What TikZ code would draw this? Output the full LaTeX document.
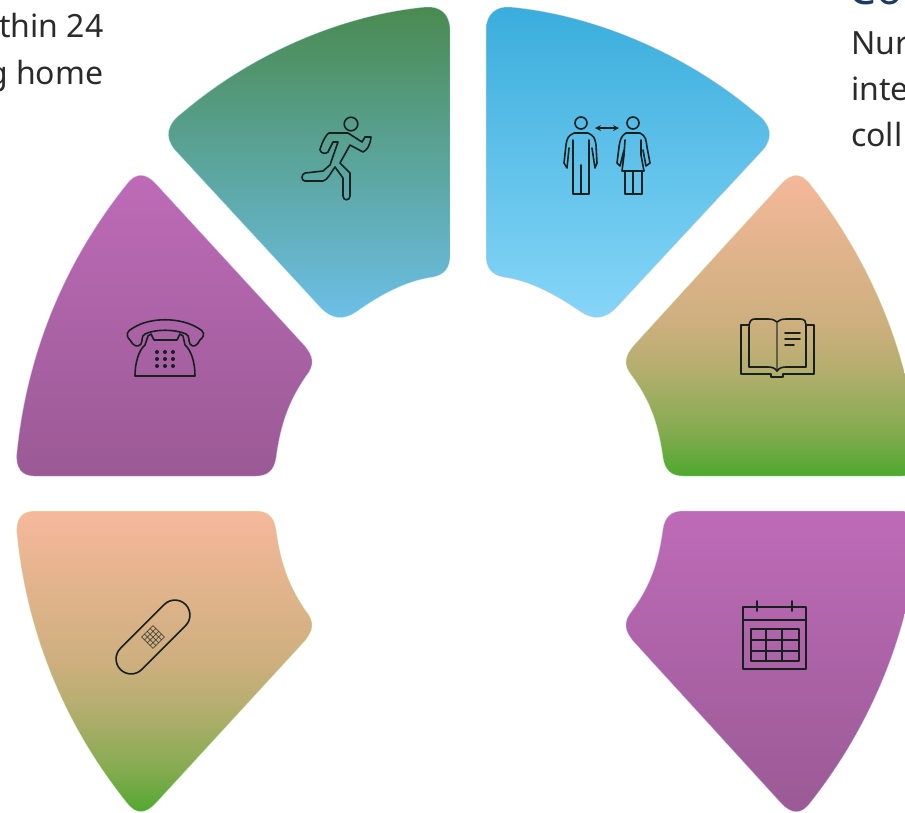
\documentclass[tikz,border=0pt]{standalone}
\usepackage{fontspec}
\setmainfont{Noto Sans}
\definecolor{inkc}{HTML}{15201F}
\definecolor{bodyc}{HTML}{2B2B2B}
\definecolor{headc}{HTML}{1F3A5F}
\definecolor{greenT}{HTML}{4A8A50}
\definecolor{greenB}{HTML}{6CBFE8}
\definecolor{blueT}{HTML}{3AADDC}
\definecolor{blueB}{HTML}{86D6F8}
\definecolor{purpT}{HTML}{BE6BB7}
\definecolor{purpB}{HTML}{9A5A95}
\definecolor{oranT}{HTML}{F6B89B}
\definecolor{oranA}{HTML}{CDAF7E}
\definecolor{oranC}{HTML}{B4AE6E}
\definecolor{oranD}{HTML}{85AB50}
\definecolor{oranB}{HTML}{4EA82E}
\pgfdeclareverticalshading{oransh}{100bp}{color(0bp)=(oranB); color(25bp)=(oranB); color(32.5bp)=(oranD); color(42.5bp)=(oranC); color(50bp)=(oranA); color(75bp)=(oranT); color(100bp)=(oranT)}
\tikzset{
  x=1pt,y=-1pt,
  seg/.style={line width=0.5pt,draw opacity=.6},
  greenseg/.style={seg,draw=cyan!30!white,top color=greenT,bottom color=greenB},
  blueseg/.style={seg,draw=pink!70!white,top color=blueT,bottom color=blueB},
  purpleseg/.style={seg,draw=blue!25!white,top color=purpT,bottom color=purpB},
  orangeseg/.style={seg,draw=green!20!white,shading=oransh},
  icon/.style={draw=inkc,line width=1.6pt,line join=round,line cap=round,fill=none},
  body/.style={font=\fontsize{32}{36}\selectfont,text=bodyc,inner sep=0pt,anchor=base west},
}
\begin{document}
\begin{tikzpicture}
\useasboundingbox (0,0) rectangle (905,812);
\clip (0,0) rectangle (905,812);
% text fragments
\node[body] (t1) at (-1,37) {thin 24};
\node[body] (t2) at (-12,84) {g home};
\node[body] (t3) at (851,54) {Nur};
\node[body] (t4) at (851,100) {inte};
\node[body] (t5) at (851,146) {coll};
\node[font=\fontsize{44}{50}\bfseries\selectfont,text=headc,inner sep=0pt,anchor=base west] (h1) at (848,4) {Co};
% green segment
\path[greenseg] (426,7) .. controls (340,15) and (250,55) .. (182,113)
  .. controls (167,124) and (164,137) .. (175,150)
  -- (320,307) .. controls (332,320) and (344,320) .. (356,312)
  .. controls (380,295) and (405,281) .. (433,277)
  .. controls (444,275) and (450,268) .. (450,256)
  -- (450,30) .. controls (450,14) and (440,6) .. (426,7) -- cycle;
% blue segment
\path[blueseg] (510,7) .. controls (596,15) and (688,55) .. (756,113)
  .. controls (771,124) and (774,137) .. (763,150)
  -- (617,307) .. controls (605,320) and (593,320) .. (581,312)
  .. controls (556,295) and (531,281) .. (503,277)
  .. controls (492,275) and (486,268) .. (486,256)
  -- (486,30) .. controls (486,14) and (496,6) .. (510,7) -- cycle;
% left purple
\path[purpleseg] (127,184) .. controls (136,172) and (146,173) .. (156,184)
  -- (303,344) .. controls (314,356) and (315,365) .. (306,376)
  .. controls (291,398) and (281,420) .. (276,458)
  .. controls (274,470) and (268,476) .. (256,476)
  -- (34,476) .. controls (22,476) and (15,468) .. (17,452)
  .. controls (28,345) and (70,255) .. (127,184) -- cycle;
% lower left orange
\path[orangeseg] (127,803) .. controls (136,815) and (146,814) .. (156,803)
  -- (303,643) .. controls (314,631) and (315,622) .. (306,611)
  .. controls (291,589) and (281,567) .. (276,529)
  .. controls (274,517) and (268,511) .. (256,511)
  -- (34,511) .. controls (22,511) and (15,519) .. (17,535)
  .. controls (28,642) and (70,732) .. (127,803) -- cycle;
% upper right orange
\path[orangeseg] (810,184) .. controls (801,172) and (791,173) .. (781,184)
  -- (635,344) .. controls (624,356) and (623,365) .. (632,376)
  .. controls (648,398) and (658,420) .. (663,458)
  .. controls (665,470) and (671,476) .. (683,476)
  -- (902,476) .. controls (914,476) and (921,468) .. (919,452)
  .. controls (908,345) and (866,255) .. (810,184) -- cycle;
% lower right purple
\path[purpleseg] (810,803) .. controls (801,815) and (791,814) .. (781,803)
  -- (635,643) .. controls (624,631) and (623,622) .. (632,611)
  .. controls (648,589) and (658,567) .. (663,529)
  .. controls (665,517) and (671,511) .. (683,511)
  -- (902,511) .. controls (914,511) and (921,519) .. (919,535)
  .. controls (908,642) and (866,732) .. (810,803) -- cycle;
% runner
\draw[icon] (351,124) circle (6.8);
\draw[icon] (348,133) -- (329,133) .. controls (325,135) and (320,148) .. (320,150)
  .. controls (321,154) and (326,154) .. (328,152) -- (333,142) -- (338,142)
  -- (330,165) -- (323,171) -- (305,173) .. controls (301,174) and (301,181) .. (305,181)
  -- (323,181) .. controls (328,180) and (331,172) .. (335,167)
  -- (343,178) -- (343,196) .. controls (343,201) and (350,201) .. (350,196)
  -- (350,173) -- (340,163) -- (350,145) -- (363,152) .. controls (367,150) and (370,146) .. (371,137)
  -- (365,137) -- (362,142) -- (348,133);
% people
\draw[icon] (581,123) circle (6);
\draw[icon] (574,133) .. controls (568,136) and (567,138) .. (566,145) -- (564,163) -- (567,168) -- (569,148)
  (588,133) .. controls (594,136) and (595,138) .. (596,145) -- (597,163) -- (595,168) -- (592,148)
  (574,133) -- (588,133)
  (573,140) -- (573,194) -- (589,194) -- (589,140)
  (581,165) -- (581,194);
\draw[icon,<->,>=stealth] (595,128) -- (619,128);
\draw[icon] (633,123) circle (6);
\draw[icon] (626,133) .. controls (621,136) and (620,140) .. (619,147) -- (617,163) -- (620,166) -- (624,150)
  (640,133) .. controls (646,136) and (646,140) .. (647,147) -- (650,163) -- (646,166) -- (643,150)
  (626,133) -- (640,133)
  (625,140) -- (624,155) -- (622,171) -- (644,171) -- (641,155) -- (641,140)
  (625,172) -- (625,194) -- (642,194) -- (642,172)
  (633,172) -- (633,194);
% telephone
\draw[icon] (130,340) .. controls (125,335) and (127,331) .. (133,328)
  .. controls (150,317) and (180,317) .. (198,328)
  .. controls (204,331) and (206,335) .. (200,340)
  .. controls (197,346) and (193,348) .. (190,344)
  .. controls (188,340) and (190,336) .. (186,334)
  .. controls (175,329) and (155,329) .. (145,334)
  .. controls (141,336) and (143,340) .. (141,344)
  .. controls (138,348) and (133,346) .. (130,340) -- cycle;
\draw[icon] (148,336) -- (151,334) -- (154,340) -- (177,340) -- (180,334) -- (183,336)
  -- (185,345) .. controls (191,350) and (195,362) .. (195,376)
  -- (135,376) .. controls (135,362) and (139,350) .. (145,345) -- cycle;
\foreach \cx in {157,165,173} \foreach \cy in {352,359,366} \fill[inkc] (\cx,\cy) circle (2);
% book
\draw[icon] (749,328) .. controls (749,320) and (752,319) .. (755,319) -- (768,319)
  .. controls (772,319) and (775,320) .. (777,322)
  .. controls (779,320) and (782,319) .. (786,319) -- (800,319)
  .. controls (805,319) and (806,321) .. (806,328)
  -- (806,367) -- (786,367) .. controls (782,367) and (779,368) .. (777,371)
  .. controls (775,368) and (772,367) .. (768,367) -- (749,367) -- cycle;
\draw[icon,line width=2.5pt,draw opacity=.55] (777,322) -- (777,371);
\draw[icon] (749,325) -- (741,325) -- (741,374) -- (771,374) -- (771,377) -- (783,377) -- (783,374) -- (814,374) -- (814,325) -- (806,325);
\draw[icon] (785,333) -- (800,333) (785,339) -- (800,339) (785,345) -- (794,345);
% plaster
\begin{scope}[shift={(153,637)},rotate=45]
\draw[icon,rounded corners=15] (-46,-15) rectangle (46,15);
\foreach \p in {-8,-4,0,4,8} {
  \draw[icon,line width=.7pt,draw opacity=.7] (-8,\p) -- (8,\p);
  \draw[icon,line width=.7pt,draw opacity=.7] (\p,-8) -- (\p,8);
}
\end{scope}
% calendar
\draw[icon] (743,607) rectangle (806,669);
\draw[icon] (743,620) -- (806,620);
\draw[icon] (757,601) -- (757,611) (792,601) -- (792,611);
\draw[icon] (751,629) rectangle (799,661);
\draw[icon] (751,640) -- (799,640) (751,651) -- (799,651) (766,629) -- (766,661) (782,629) -- (782,661);
\end{tikzpicture}
\end{document}
